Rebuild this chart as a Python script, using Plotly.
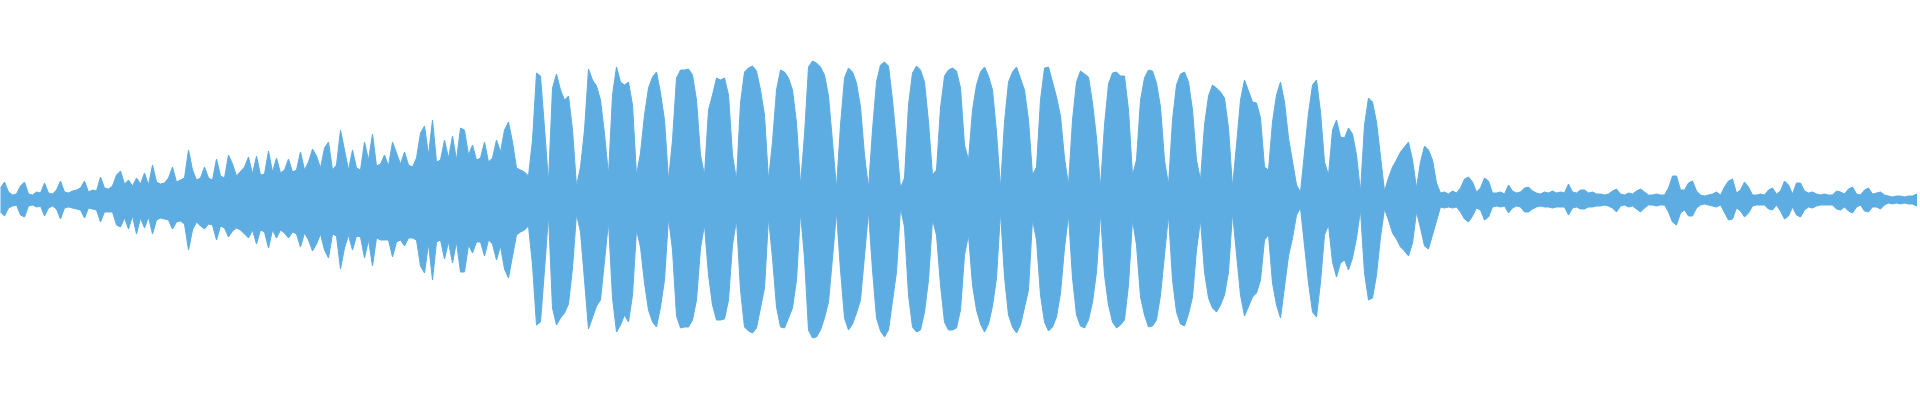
import plotly.graph_objects as go

# Audio waveform envelope: one sample every 4 columns.
# Amplitudes are in pixel units above (TOP) and below (BOTTOM) the centre line.
SAMPLE_STEP = 4

TOP = [
    12, 18, 8, 5, 6, 14, 18, 6, 5, 8, 7, 17, 7, 6, 10, 19, 8, 7, 9, 10,
    12, 19, 8, 10, 9, 23, 12, 11, 14, 25, 29, 16, 20, 14, 22, 16, 27, 15, 35, 18,
    16, 17, 22, 33, 18, 20, 22, 50, 30, 20, 22, 33, 22, 20, 41, 24, 22, 45, 36, 24,
    28, 33, 43, 26, 44, 25, 26, 49, 28, 42, 27, 30, 41, 28, 30, 48, 30, 38, 51, 44,
    32, 52, 58, 30, 35, 70, 50, 30, 50, 32, 30, 58, 40, 66, 34, 36, 45, 34, 58, 46,
    36, 48, 35, 33, 42, 67, 74, 45, 80, 38, 40, 60, 42, 64, 40, 72, 70, 45, 55, 40,
    42, 58, 38, 42, 60, 48, 70, 78, 58, 32, 30, 28, 24, 60, 127, 124, 72, 18, 112, 126,
    110, 100, 104, 70, 14, 33, 70, 131, 120, 114, 100, 66, 25, 105, 133, 118, 115, 118, 95, 25,
    47, 85, 112, 123, 128, 107, 80, 20, 60, 122, 130, 130, 131, 125, 100, 45, 25, 90, 105, 122,
    120, 122, 105, 45, 20, 97, 128, 132, 134, 129, 110, 85, 20, 58, 110, 130, 128, 122, 110, 77,
    15, 65, 133, 139, 137, 133, 125, 104, 58, 12, 75, 122, 132, 128, 117, 93, 45, 12, 70, 118,
    135, 138, 134, 100, 58, 12, 22, 95, 127, 134, 130, 118, 78, 25, 30, 92, 124, 130, 132, 129,
    112, 55, 40, 90, 115, 128, 133, 124, 110, 68, 12, 78, 118, 128, 133, 122, 110, 80, 25, 33,
    100, 132, 133, 118, 103, 84, 42, 15, 80, 118, 129, 126, 123, 97, 62, 13, 75, 116, 127, 128,
    124, 124, 90, 25, 40, 100, 122, 130, 129, 117, 93, 40, 15, 80, 115, 126, 128, 118, 90, 40,
    20, 75, 104, 115, 112, 108, 102, 72, 13, 55, 100, 120, 110, 98, 97, 82, 33, 30, 78, 105,
    118, 98, 62, 38, 15, 8, 50, 87, 115, 120, 88, 38, 25, 70, 80, 63, 62, 72, 66, 45,
    8, 75, 102, 98, 78, 40, 9, 22, 33, 40, 48, 53, 58, 40, 12, 38, 54, 50, 40, 17,
    7, 8, 6, 9, 7, 12, 21, 23, 18, 8, 12, 22, 19, 7, 7, 8, 6, 15, 9, 7,
    8, 12, 13, 9, 7, 6, 8, 7, 9, 7, 8, 7, 16, 8, 7, 10, 10, 7, 8, 6,
    6, 5, 6, 9, 11, 6, 5, 7, 6, 9, 11, 8, 5, 5, 6, 5, 5, 12, 24, 24,
    10, 10, 17, 19, 9, 5, 4, 5, 6, 8, 5, 13, 19, 21, 7, 10, 18, 13, 5, 5,
    6, 5, 10, 12, 6, 9, 19, 15, 6, 17, 17, 9, 7, 8, 6, 5, 6, 5, 5, 9,
    8, 6, 11, 13, 6, 5, 10, 12, 6, 7, 8, 5, 4, 3, 4, 4, 3, 4, 4, 6,
]

BOTTOM = [
    12, 16, 8, 6, 5, 15, 17, 6, 5, 7, 6, 16, 8, 6, 9, 19, 8, 7, 8, 9,
    10, 18, 8, 9, 10, 22, 12, 12, 12, 25, 27, 18, 29, 16, 34, 18, 28, 17, 34, 20,
    18, 19, 20, 29, 22, 21, 24, 50, 30, 22, 26, 29, 24, 25, 40, 26, 28, 37, 31, 28,
    30, 34, 38, 30, 44, 30, 32, 48, 30, 38, 30, 33, 38, 32, 34, 47, 33, 40, 51, 44,
    34, 50, 58, 34, 36, 69, 48, 35, 50, 36, 37, 58, 40, 66, 38, 40, 40, 40, 57, 42,
    40, 46, 38, 38, 40, 66, 73, 44, 80, 42, 40, 59, 42, 63, 42, 72, 72, 45, 53, 42,
    42, 56, 40, 44, 60, 46, 69, 78, 56, 35, 32, 30, 26, 65, 125, 122, 70, 15, 108, 125,
    118, 113, 104, 68, 14, 32, 80, 129, 117, 106, 100, 60, 22, 98, 132, 125, 115, 122, 95, 30,
    47, 83, 110, 122, 127, 107, 80, 18, 50, 116, 128, 127, 127, 120, 100, 48, 25, 75, 105, 120,
    120, 119, 100, 45, 20, 90, 127, 131, 133, 128, 107, 88, 18, 58, 107, 127, 128, 118, 108, 80,
    13, 58, 130, 138, 137, 130, 118, 102, 58, 12, 70, 118, 130, 124, 113, 100, 55, 12, 70, 118,
    131, 137, 130, 100, 72, 8, 27, 95, 127, 132, 130, 112, 80, 20, 35, 85, 122, 130, 130, 128,
    110, 55, 35, 85, 110, 124, 132, 124, 106, 78, 12, 77, 115, 127, 133, 125, 107, 90, 20, 40,
    95, 122, 131, 127, 117, 93, 48, 15, 78, 115, 126, 128, 120, 102, 72, 13, 75, 105, 122, 128,
    125, 120, 85, 20, 45, 97, 115, 127, 126, 120, 95, 55, 15, 80, 112, 124, 126, 114, 97, 50,
    20, 72, 98, 108, 112, 105, 95, 72, 13, 55, 95, 116, 107, 97, 93, 80, 40, 35, 83, 105,
    118, 88, 56, 38, 15, 8, 45, 83, 112, 117, 82, 35, 25, 62, 77, 63, 60, 70, 58, 38,
    10, 73, 100, 98, 75, 37, 9, 20, 33, 39, 47, 51, 56, 43, 12, 28, 46, 49, 35, 20,
    7, 8, 7, 8, 7, 12, 19, 22, 16, 8, 10, 20, 17, 7, 6, 7, 6, 13, 8, 6,
    7, 12, 12, 9, 7, 6, 7, 7, 8, 7, 7, 7, 15, 8, 7, 9, 9, 7, 7, 6,
    6, 5, 6, 8, 12, 6, 5, 7, 6, 9, 12, 8, 5, 5, 6, 5, 5, 12, 22, 25,
    13, 10, 16, 16, 8, 5, 4, 5, 6, 7, 5, 13, 20, 19, 8, 11, 17, 13, 6, 5,
    5, 5, 9, 10, 5, 11, 19, 16, 7, 15, 17, 10, 7, 8, 6, 5, 5, 5, 5, 9,
    10, 7, 11, 13, 7, 5, 11, 12, 7, 7, 9, 5, 3, 4, 3, 4, 3, 4, 4, 6,
]

COLOR = "#5DADE2"

xs = [i * SAMPLE_STEP + 0.5 for i in range(len(TOP))]
poly_x = xs + xs[::-1]
poly_y = list(TOP) + [-b for b in BOTTOM[::-1]]

fig = go.Figure()
fig.add_trace(go.Scatter(
    x=poly_x, y=poly_y,
    mode="lines",
    fill="toself",
    fillcolor=COLOR,
    line=dict(color=COLOR, width=1),
    hoverinfo="skip",
    showlegend=False,
))

fig.update_layout(
    width=1920, height=400,
    margin=dict(l=0, r=0, t=0, b=0),
    paper_bgcolor="white", plot_bgcolor="white",
    xaxis=dict(range=[0, 1920], visible=False, fixedrange=True),
    yaxis=dict(range=[-200, 200], visible=False, fixedrange=True),
    showlegend=False,
)

fig.write_html(
    "out.html",
    config={"displayModeBar": False, "staticPlot": True},
    post_script="document.body.style.margin='0';document.body.style.overflow='hidden';",
)
